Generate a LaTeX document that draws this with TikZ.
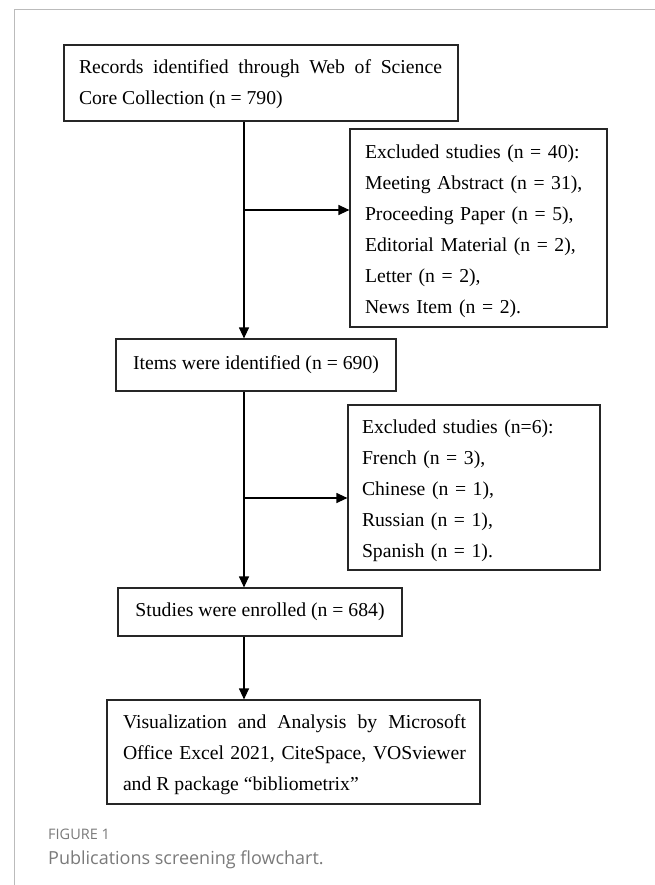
\documentclass[tikz,border=0pt]{standalone}
\usepackage{fontspec}
\setmainfont{Liberation Serif}
\newfontfamily\capfont{Open Sans}
\usetikzlibrary{arrows.meta}
\definecolor{framegray}{HTML}{BBBBBB}
\definecolor{capgray}{HTML}{7A7A7A}
\begin{document}
\begin{tikzpicture}[x=1pt,y=-1pt,
  box/.style={draw=black!85,line width=1.2pt,inner sep=0pt,anchor=center},
  txt/.style={font=\fontsize{19.7}{31}\selectfont},
  arr/.style={line width=1.2pt,-{Triangle[length=11pt,width=10pt]}},
  frame/.style={draw=framegray,line width=1pt}]
\useasboundingbox (0,0) rectangle (655,885);
\draw[frame] (655,10) -- (14,10) -- (14,885);
% boxes
\node[box,minimum width=394pt,minimum height=76pt] (b1) at (261,83) {};
\node[txt,text width=363pt,align=justify,anchor=center] (t1) at (260.5,84.5)
  {Records identified through Web of Science\linebreak Core Collection (n = 790)};
\node[box,minimum width=257pt,minimum height=198pt] (b2) at (478.5,228) {};
\node[txt,text width=227pt,align=left,anchor=center] (t2) at (478.5,231)
  {Excluded studies (n = 40):\\ Meeting Abstract (n = 31),\\ Proceeding Paper (n = 5),\\ Editorial Material (n = 2),\\ Letter (n = 2),\\ News Item (n = 2).};
\node[box,minimum width=280pt,minimum height=52pt,txt] (b3) at (256,365) {Items were identified (n = 690)};
\node[box,minimum width=252pt,minimum height=165pt] (b4) at (474,487.5) {};
\node[txt,text width=224pt,align=left,anchor=center] (t4) at (474,491)
  {Excluded studies (n=6):\\ French (n = 3),\\ Chinese (n = 1),\\ Russian (n = 1),\\ Spanish (n = 1).};
\node[box,minimum width=284pt,minimum height=48pt,txt] (b5) at (260,612) {Studies were enrolled (n = 684)};
\node[box,minimum width=373pt,minimum height=104pt] (b6) at (293.5,752) {};
\node[txt,text width=343pt,align=justify,anchor=center] (t6) at (294.5,755)
  {Visualization and Analysis by Microsoft\linebreak Office Excel 2021, CiteSpace, VOSviewer\linebreak and R package “bibliometrix”};
% connectors
\coordinate (ta) at (244,0);
\coordinate (j1) at (244,210);
\coordinate (j2) at (244,498);
\draw[arr] (b1.south -| ta) -- (b3.north -| ta);
\draw[arr] (j1) -- (j1 -| b2.west);
\draw[arr] (b3.south -| ta) -- (b5.north -| ta);
\draw[arr] (j2) -- (j2 -| b4.west);
\draw[arr] (b5.south -| ta) -- (b6.north -| ta);
% caption
\node[anchor=base west,inner sep=0pt,font=\capfont\fontsize{14.5}{17}\selectfont,text=capgray] (cap1) at (48,839) {FIGURE 1};
\node[anchor=base west,inner sep=0pt,font=\capfont\fontsize{18}{22}\selectfont,text=capgray] (cap2) at (48,864) {Publications screening flowchart.};
\end{tikzpicture}
\end{document}
